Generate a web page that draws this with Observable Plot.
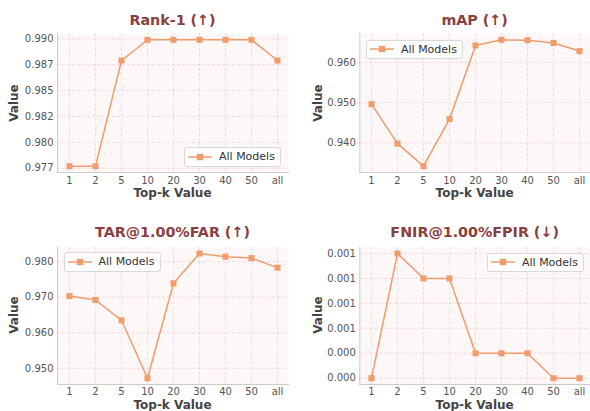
<!DOCTYPE html>
<html><head><meta charset="utf-8">
<script src="https://cdn.jsdelivr.net/npm/d3@7"></script>
<script src="https://cdn.jsdelivr.net/npm/@observablehq/plot@0.6"></script>
<style>
body{margin:0;background:#fff;font-family:"DejaVu Sans",sans-serif;}
#root{position:relative;width:590px;height:411px;overflow:hidden;background:#fff;}
.abs{position:absolute;}
.title{font-weight:bold;font-size:14.3px;color:#8b4040;transform:translate(-50%,-50%);white-space:nowrap;}
.xlab{font-weight:bold;font-size:12px;color:#444;transform:translate(-50%,-50%);white-space:nowrap;line-height:12px;}
.ylab{font-weight:bold;font-size:12px;color:#444;transform:translate(-50%,-50%) rotate(-90deg);white-space:nowrap;}
.legend{box-sizing:border-box;border:1px solid #d8d8d8;border-radius:3px;background:rgba(255,255,255,0.85);font-size:11px;color:#333;display:flex;align-items:center;}
.legend svg{margin-left:3px;margin-right:7px;}
</style></head>
<body><div id="root"></div>
<script>
const topK = ["1","2","5","10","20","30","40","50","all"];
const rank1 = [0.9777,0.9777,0.9879,0.9899,0.9899,0.9899,0.9899,0.9899,0.9879];
const mAP = [0.9496,0.9398,0.9342,0.9459,0.9642,0.9656,0.9655,0.9648,0.9628];
const tar = [0.9703,0.9692,0.9635,0.9472,0.9739,0.9823,0.9814,0.9810,0.9783];
const fnir = [0.0003,0.0008,0.0007,0.0007,0.0004,0.0004,0.0004,0.0003,0.0003];

const rank1Ticks = [0.9775,0.98,0.9825,0.985,0.9875,0.99];
const rank1Labels = ["0.977","0.980","0.982","0.985","0.987","0.990"];
const mapTicks = [0.94,0.95,0.96];
const mapLabels = ["0.940","0.950","0.960"];
const tarTicks = [0.95,0.96,0.97,0.98];
const tarLabels = ["0.950","0.960","0.970","0.980"];
const fnirTicks = [0.0003,0.0004,0.0005,0.0006,0.0007,0.0008];
const fnirLabels = ["0.000","0.000","0.001","0.001","0.001","0.001"];

const titles = ["Rank-1 (\u2191)","mAP (\u2191)","TAR@1.00%FAR (\u2191)","FNIR@1.00%FPIR (\u2193)"];
const seriesName = "All Models";
const xLabel = "Top-k Value";
const yLabel = "Value";

const COLOR = "#f09c6c";
const root = document.getElementById("root");

const panels = [
  {vals: rank1, ticks: rank1Ticks, labels: rank1Labels, title: titles[0], left:0, top:0, w:295, h:205, ml:57, mr:7, mt:33, mb:33, legend:{x:184,y:147}},
  {vals: mAP, ticks: mapTicks, labels: mapLabels, title: titles[1], left:295, top:0, w:295, h:205, ml:64.3, mr:0, mt:33, mb:33, legend:{x:366,y:39.5}},
  {vals: tar, ticks: tarTicks, labels: tarLabels, title: titles[2], left:0, top:205, w:295, h:206, ml:57, mr:7, mt:41.7, mb:27, legend:{x:63.5,y:252}},
  {vals: fnir, ticks: fnirTicks, labels: fnirLabels, title: titles[3], left:295, top:205, w:295, h:206, ml:64.3, mr:0, mt:41.7, mb:27, legend:{x:487,y:252.5}},
];

function add(cls, text, x, y){
  const d = document.createElement("div");
  d.className = "abs " + cls;
  d.textContent = text;
  d.style.left = x + "px"; d.style.top = y + "px";
  root.appendChild(d);
}

for (const p of panels) {
  const data = topK.map((k,i)=>({k, v:p.vals[i]}));
  const lo = d3.min(p.vals), hi = d3.max(p.vals), m = (hi-lo)*0.05;
  const lab = new Map(p.ticks.map((t,i)=>[t,p.labels[i]]));
  const chart = Plot.plot({
    width: p.w, height: p.h,
    marginLeft: p.ml, marginRight: p.mr, marginTop: p.mt, marginBottom: p.mb,
    style: {fontFamily: "DejaVu Sans, sans-serif", fontSize: "10px", color: "#555", background: "transparent", overflow: "visible"},
    x: {type: "point", domain: topK, padding: 0.4},
    y: {domain: [lo - m, hi + m]},
    marks: [
      Plot.frame({fill: "#fdf7f8", stroke: null}),
      Plot.ruleY(p.ticks, {stroke: "#f3b9b9", strokeOpacity: 0.65, strokeDasharray: "3,2", strokeWidth: 0.8}),
      Plot.ruleX(topK, {stroke: "#f3b9b9", strokeOpacity: 0.65, strokeDasharray: "3,2", strokeWidth: 0.8}),
      Plot.frame({anchor: "left", stroke: "#cccccc"}),
      Plot.frame({anchor: "bottom", stroke: "#cccccc"}),
      Plot.axisY(p.ticks, {tickSize: 0, tickPadding: 4, tickFormat: t => lab.get(t), label: null, fill: "#555"}),
      Plot.axisX({tickSize: 0, tickPadding: p.top === 0 ? 4 : 3, label: null, fill: "#555"}),
      Plot.line(data, {x: "k", y: "v", stroke: COLOR, strokeWidth: 1.5}),
      Plot.dot(data, {x: "k", y: "v", symbol: "square", fill: COLOR, r: 3.4})
    ]
  });
  chart.style.position = "absolute";
  chart.style.left = p.left + "px";
  chart.style.top = p.top + "px";
  root.appendChild(chart);

  const cx = p.left + p.ml + (p.w - p.ml - p.mr)/2;
  const cy = p.top + p.mt + (p.h - p.mt - p.mb)/2;
  add("title", p.title, cx, p.top === 0 ? 20 : 232);
  add("xlab", xLabel, cx, p.top === 0 ? 193 : 404.5);
  add("ylab", yLabel, p.left + (p.left === 0 ? 14 : 22.7), cy);

  const lg = document.createElement("div");
  lg.className = "abs legend";
  lg.style.left = p.legend.x + "px"; lg.style.top = p.legend.y + "px";
  lg.style.width = "97px"; lg.style.height = "19.5px";
  lg.innerHTML = `<svg width="24" height="10"><line x1="0" y1="5" x2="24" y2="5" stroke="${COLOR}" stroke-width="1.5"/><rect x="8.8" y="1.8" width="6.4" height="6.4" fill="${COLOR}"/></svg><span>${seriesName}</span>`;
  root.appendChild(lg);
}
</script>
</body></html>
